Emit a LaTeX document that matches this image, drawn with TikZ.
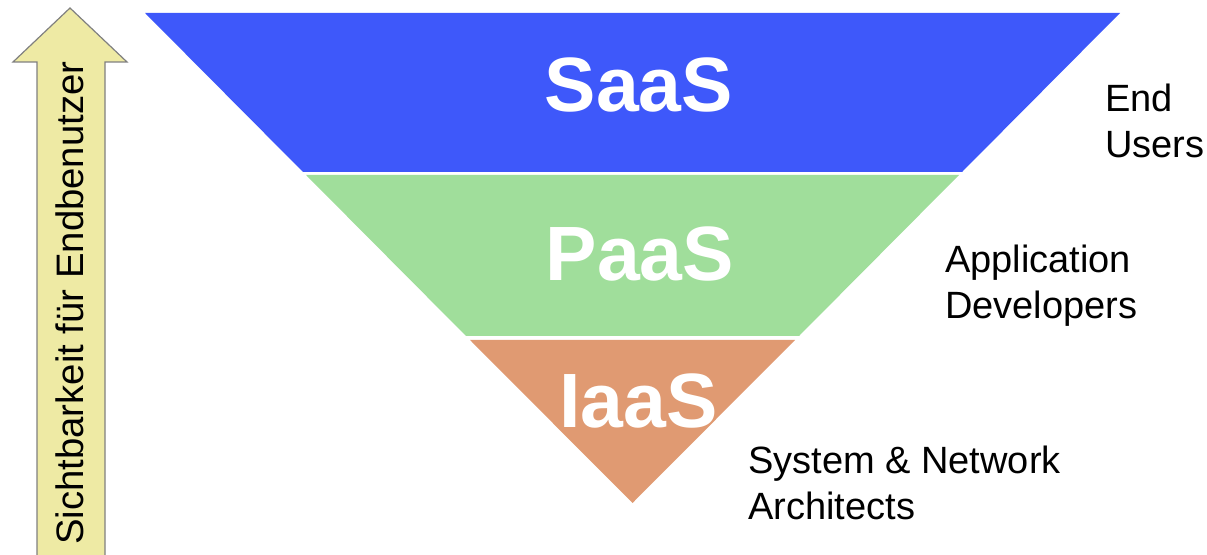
\documentclass[tikz,border=0pt]{standalone}
\usepackage{fontspec}
\setmainfont{Liberation Sans}
\definecolor{saasblue}{RGB}{62,88,250}
\definecolor{paasgreen}{RGB}{160,222,155}
\definecolor{iaasorange}{RGB}{224,154,114}
\definecolor{arrowfill}{RGB}{238,234,164}
\definecolor{arrowline}{RGB}{128,128,128}
\tikzset{
  layerlabel/.style={inner sep=0pt, anchor=base, text=white, font=\fontsize{77bp}{80bp}\selectfont\bfseries},
  rolelabel/.style={inner sep=0pt, anchor=base west, align=left, font=\fontsize{38bp}{46bp}\selectfont},
}
\begin{document}
\begin{tikzpicture}[x=1bp,y=-1bp]
\useasboundingbox (0,0) rectangle (1207,555);
% layers
\fill[saasblue] (145,13) -- (1120,13) -- (962,172) -- (303,172) -- cycle;
\fill[paasgreen] (306,175) -- (959,175) -- (799,336) -- (466,336) -- cycle;
\fill[iaasorange] (470,340) -- (795,340) -- (632.5,503) -- cycle;
% layer names
\node[layerlabel] (saas) at (639,112) {SaaS};
\node[layerlabel] (paas) at (640,281) {PaaS};
\node[layerlabel] (iaas) at (638.5,427) {IaaS};
% roles (base anchor = baseline of last line)
\node[rolelabel] (end) at (1105,158) {End\\Users};
\node[rolelabel] (app) at (945,319) {Application\\Developers};
\node[rolelabel] (sys) at (748,519) {System \& Network\\Architects};
% visibility arrow
\filldraw[fill=arrowfill, draw=arrowline, line width=1.2bp]
  (37,560) -- (37,62) -- (13,62) -- (70,8) -- (127,62) -- (105,62) -- (105,560) -- cycle;
\node[inner sep=0pt, anchor=base west, rotate=90, font=\fontsize{38.3bp}{46bp}\selectfont] (vis) at (83,545) {Sichtbarkeit für Endbenutzer};
\end{tikzpicture}
\end{document}
